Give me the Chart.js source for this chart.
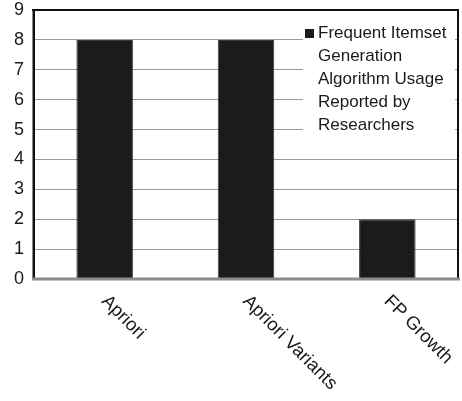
<!DOCTYPE html>
<html>
<head>
<meta charset="utf-8">
<title>Frequent Itemset Generation Algorithm Usage</title>
<script src="https://cdn.jsdelivr.net/npm/chart.js@4/dist/chart.umd.min.js"></script>
<style>
  html, body { margin: 0; padding: 0; background: #fff; }
  #wrap { width: 462px; height: 401px; }
</style>
</head>
<body>
<div id="wrap"><canvas id="chart" width="462" height="401"></canvas></div>
<script>
// Algorithms and how many researchers reported using each
const categories = ['Apriori', 'Apriori Variants', 'FP Growth'];
const usageCounts = [8, 8, 2];
const seriesLabel = 'Frequent Itemset Generation Algorithm Usage Reported by Researchers';
const yTicks = [0, 1, 2, 3, 4, 5, 6, 7, 8, 9];

const FONT = '"Liberation Sans", Arial, sans-serif';
const TEXT = '#1a1a1a';

// Wrap a string into lines no wider than maxWidth
function wrapText(ctx, text, maxWidth) {
  const words = text.split(' ');
  const lines = [];
  let line = '';
  for (const w of words) {
    const test = line ? line + ' ' + w : w;
    if (line && ctx.measureText(test).width > maxWidth) {
      lines.push(line);
      line = w;
    } else {
      line = test;
    }
  }
  if (line) lines.push(line);
  return lines;
}

const decorations = {
  id: 'decorations',
  beforeDraw(chart) {
    const ctx = chart.ctx;
    ctx.save();
    ctx.fillStyle = '#fff';
    ctx.fillRect(0, 0, chart.width, chart.height);
    ctx.restore();
  },
  afterDraw(chart) {
    const ctx = chart.ctx;
    const a = chart.chartArea;
    const xs = chart.scales.x;
    ctx.save();

    // plot frame
    ctx.lineCap = 'butt';
    ctx.strokeStyle = '#8a8a8a';
    ctx.lineWidth = 1;
    ctx.beginPath(); ctx.moveTo(a.left - 1.5, a.top - 1); ctx.lineTo(a.left - 1.5, a.bottom); ctx.stroke();
    ctx.strokeStyle = '#111';
    ctx.lineWidth = 2;
    ctx.beginPath(); ctx.moveTo(a.left, a.top - 1); ctx.lineTo(a.left, a.bottom); ctx.stroke();
    ctx.beginPath(); ctx.moveTo(a.left - 2, a.top); ctx.lineTo(a.right + 1, a.top); ctx.stroke();
    ctx.beginPath(); ctx.moveTo(a.right, a.top - 1); ctx.lineTo(a.right, a.bottom); ctx.stroke();
    ctx.strokeStyle = '#8c8c8c';
    ctx.lineWidth = 3;
    ctx.beginPath(); ctx.moveTo(a.left - 2, a.bottom); ctx.lineTo(a.right + 2, a.bottom); ctx.stroke();

    // rotated category labels
    ctx.font = '18.5px ' + FONT;
    ctx.fillStyle = TEXT;
    ctx.textAlign = 'left';
    ctx.textBaseline = 'alphabetic';
    categories.forEach((c, i) => {
      const x = xs.getPixelForValue(i) - 4;
      const y = a.bottom + 23;
      ctx.save();
      ctx.translate(x, y);
      ctx.rotate(Math.PI / 4);
      ctx.fillText(c, 0, 0);
      ctx.restore();
    });

    // legend
    ctx.font = '17px ' + FONT;
    const ds = chart.data.datasets[0];
    const lines = wrapText(ctx, ds.label, 137);
    const boxL = 303, boxT = 24, boxR = 455;
    const lineH = 23, firstY = 33;
    ctx.fillStyle = '#fff';
    ctx.fillRect(boxL, boxT, boxR - boxL, firstY + lineH * (lines.length - 1) + 14 - boxT);
    ctx.fillStyle = ds.backgroundColor;
    ctx.fillRect(305, 29, 9, 9);
    ctx.fillStyle = TEXT;
    ctx.textBaseline = 'middle';
    lines.forEach((ln, i) => ctx.fillText(ln, 318, firstY + i * lineH));

    ctx.restore();
  }
};

new Chart(document.getElementById('chart'), {
  type: 'bar',
  data: {
    labels: categories,
    datasets: [{
      label: seriesLabel,
      data: usageCounts,
      backgroundColor: '#1b1b1b',
      borderColor: '#3a3a3a',
      borderWidth: 1,
      barPercentage: 0.40,
      categoryPercentage: 1.0
    }]
  },
  options: {
    responsive: false,
    animation: false,
    devicePixelRatio: 1,
    layout: { padding: { top: 10, right: 4, left: 0, bottom: 0 } },
    plugins: {
      legend: { display: false },
      tooltip: { enabled: false }
    },
    scales: {
      x: {
        grid: { display: false },
        border: { display: false },
        ticks: { display: false },
        afterFit(scale) { scale.height = 122; }
      },
      y: {
        min: yTicks[0],
        max: yTicks[yTicks.length - 1],
        afterBuildTicks(scale) { scale.ticks = yTicks.map(v => ({ value: v })); },
        grid: { color: '#9a9a9a', lineWidth: 1, drawTicks: false },
        border: { display: false },
        ticks: {
          padding: 10,
          color: TEXT,
          font: { family: FONT, size: 18 },
          lineHeight: 1.1
        },
        afterFit(scale) {
          scale.width = 34;
          scale.paddingTop = 0;
          scale.paddingBottom = 0;
        }
      }
    }
  },
  plugins: [decorations]
});
</script>
</body>
</html>
